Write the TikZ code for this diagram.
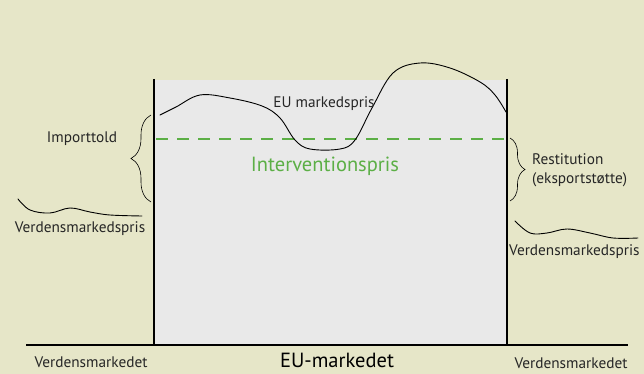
\documentclass[tikz,border=0pt]{standalone}
\usepackage{fontspec}
\setmainfont{PT Sans}
\usetikzlibrary{decorations.pathreplacing}

\definecolor{bgcream}{RGB}{230,230,200}
\definecolor{marketgray}{RGB}{233,233,233}
\definecolor{intgreen}{RGB}{92,175,70}

\tikzset{
    txt/.style={font=\fontsize{15.3}{19}\selectfont, text=black!85, inner sep=0pt},
    bigtxt/.style={font=\fontsize{20.5}{24}\selectfont, inner sep=0pt},
    wall/.style={line width=2pt},
    wave/.style={line width=0.9pt, line cap=round},
    curly/.style={decorate, decoration={brace, amplitude=#1}, line width=0.6pt},
}

\begin{document}
\begin{tikzpicture}[x=1pt, y=-1pt]
    \fill[bgcream] (0,0) rectangle (644,374);
    \useasboundingbox (0,0) rectangle (644,374);

    % the EU market
    \coordinate (eutl) at (155,80);
    \coordinate (eubr) at (506,345);
    \fill[marketgray] (eutl) rectangle (eubr);
    \draw[wall] (154,79) -- (154,345);
    \draw[wall] (507,79) -- (507,345);
    \draw[wall] (26,345) -- (628,345);

    % intervention price
    \draw[intgreen, line width=2pt, dash pattern=on 12pt off 9pt] (156,139) -- (506,139);
    \node[bigtxt, text=intgreen] (intpris) at (325,166) {Interventionspris};

    % EU market price
    \draw[wave] plot[smooth, tension=0.6] coordinates {(160,115) (176,107) (200,95) (230,98)
        (262,106) (280,118) (295,140) (310,149) (340,149) (355,140) (372,108)
        (393,73) (420,63) (450,68) (480,82) (495,95) (506,112)};
    \node[txt] (eupris) at (324,104) {EU markedspris};

    % world market prices
    \draw[wave] plot[smooth, tension=0.6] coordinates {(18,199) (30,210) (50,213) (70,208)
        (90,212) (110,215) (142,216)};
    \node[txt] (vpris1) at (80,229) {Verdensmarkedspris};
    \draw[wave] plot[smooth, tension=0.6] coordinates {(515,221) (530,233) (547,233) (567,229)
        (590,233) (613,238) (638,238)};
    \node[txt, anchor=base west] (vpris2) at (509,255) {Verdensmarkedspris};

    % levy and refund
    \draw[curly=20pt] (151,202) -- (151,115);
    \node[txt] (told) at (82,139) {Importtold};
    \draw[curly=15pt] (510,138) -- (510,201);
    \node[txt, anchor=west, align=left] (restitution) at (532,170) {Restitution\\(eksportstøtte)};

    % markets
    \node[txt, anchor=base] (vmarked1) at (91,367) {Verdensmarkedet};
    \node[bigtxt, anchor=base] (eumarked) at (337,367) {EU-markedet};
    \node[txt, anchor=base] (vmarked2) at (571,368) {Verdensmarkedet};
\end{tikzpicture}
\end{document}
